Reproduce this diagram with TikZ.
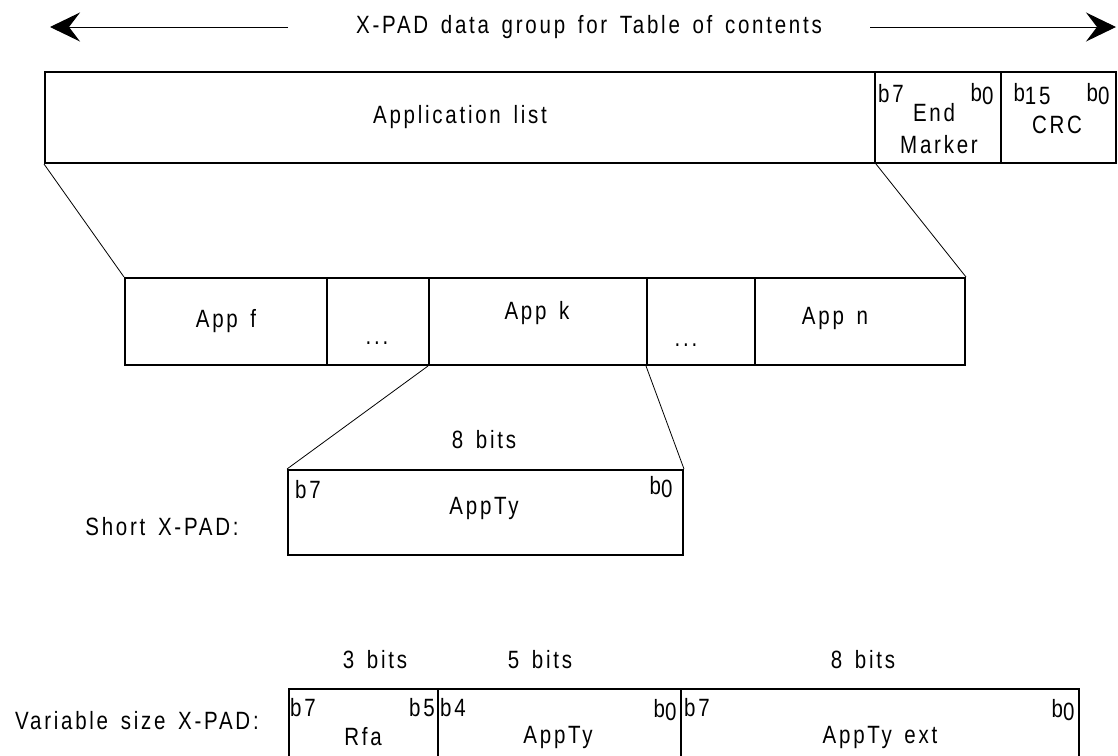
\documentclass[tikz,border=0pt]{standalone}
\usepackage{fontspec}
\setmainfont{Liberation Sans}[FakeStretch=0.82,LetterSpace=11,WordSpace=1.5]
\usetikzlibrary{arrows.meta}
\newcommand{\blow}[2]{b\raisebox{-3pt}{#2}#1}
\begin{document}
\begin{tikzpicture}[x=1pt,y=-1pt,
    every node/.style={font=\fontsize{25}{28}\selectfont,inner sep=0pt},
    cell/.style={draw,line width=2pt,minimum height=#1},
    cell/.default=91pt,
    zoomline/.style={line width=0.8pt},
    span/.style={line width=1pt,-{Stealth[length=30pt,width=29pt,inset=11pt]}}]
    \clip (0,0) rectangle (1118,755);
    % title with arrows
    \node (title) at (589,27) {X-PAD data group for Table of contents};
    \coordinate (tl) at (288,27);
    \coordinate (tr) at (870,27);
    \coordinate (ltip) at (50,27);
    \coordinate (rtip) at (1116,27);
    \draw[span] (tl) -- (ltip);
    \draw[span] (tr) -- (rtip);
    % data group
    \node[cell,minimum width=830pt] (applist) at (460,117.5) {Application list};
    \node[cell,minimum width=126pt] (endmark) at (938,117.5) {};
    \node[cell,minimum width=115pt] (crc) at (1058.5,117.5) {};
    \node (endb7) at (891,94) {b7};
    \node (endb0) at (982,94) {\blow{}{0}};
    \node (endtxt) at (934,113) {End};
    \node (endtxt2) at (939,145) {Marker};
    \node (crcb15) at (1032,94) {\blow{}{15}};
    \node (crcb0) at (1098,94) {\blow{}{0}};
    \node (crctxt) at (1057,125) {CRC};
    % application list
    \node[cell=87pt,minimum width=202pt] (appf) at (226,321.5) {App f};
    \node[cell=87pt,minimum width=102pt] (dotsa) at (378,321.5) {};
    \node[cell=87pt,minimum width=218pt] (appk) at (538,321.5) {};
    \node[cell=87pt,minimum width=108pt] (dotsb) at (701,321.5) {};
    \node[cell=87pt,minimum width=210pt] (appn) at (860,321.5) {};
    \node (dotsatxt) at (377,343) {...};
    \node (appktxt) at (537,313) {App k};
    \node (dotsbtxt) at (686,345) {...};
    \node (appntxt) at (835,318) {App n};
    \draw[zoomline] (applist.south west) -- (appf.north west);
    \draw[zoomline] (applist.south east) -- (appn.north east);
    % short X-PAD
    \node (shortlbl) at (162,527) {Short X-PAD:};
    \node (shortbits) at (484,440) {8 bits};
    \node[cell=85pt,minimum width=395pt] (short) at (485.5,512.5) {};
    \node (shortb7) at (308,490) {b7};
    \node (shortb0) at (661,487) {\blow{}{0}};
    \node (shorttxt) at (484,508) {AppTy};
    \draw[zoomline] (appk.south west) -- (short.north west);
    \draw[zoomline] (dotsb.south west) -- (short.north east);
    % variable size X-PAD
    \node (varlbl) at (137,721) {Variable size X-PAD:};
    \node (bits3) at (375,660) {3 bits};
    \node (bits5) at (540,660) {5 bits};
    \node (bits8) at (863,660) {8 bits};
    \node[cell=100pt,minimum width=149pt,anchor=north west] (rfa) at (288,688) {};
    \node[cell=100pt,minimum width=243pt,anchor=north west] (appty) at (437,688) {};
    \node[cell=100pt,minimum width=398pt,anchor=north west] (apptyext) at (680,688) {};
    \node (rfab7) at (303,708) {b7};
    \node (rfab5) at (422,708) {b5};
    \node (apptyb4) at (453,708) {b4};
    \node (apptyb0) at (665,710) {\blow{}{0}};
    \node (extb7) at (697,708) {b7};
    \node (extb0) at (1063,710) {\blow{}{0}};
    \node (rfatxt) at (363,737) {Rfa};
    \node (apptytxt) at (558,737) {AppTy};
    \node (exttxt) at (880,737) {AppTy ext};
\end{tikzpicture}
\end{document}
